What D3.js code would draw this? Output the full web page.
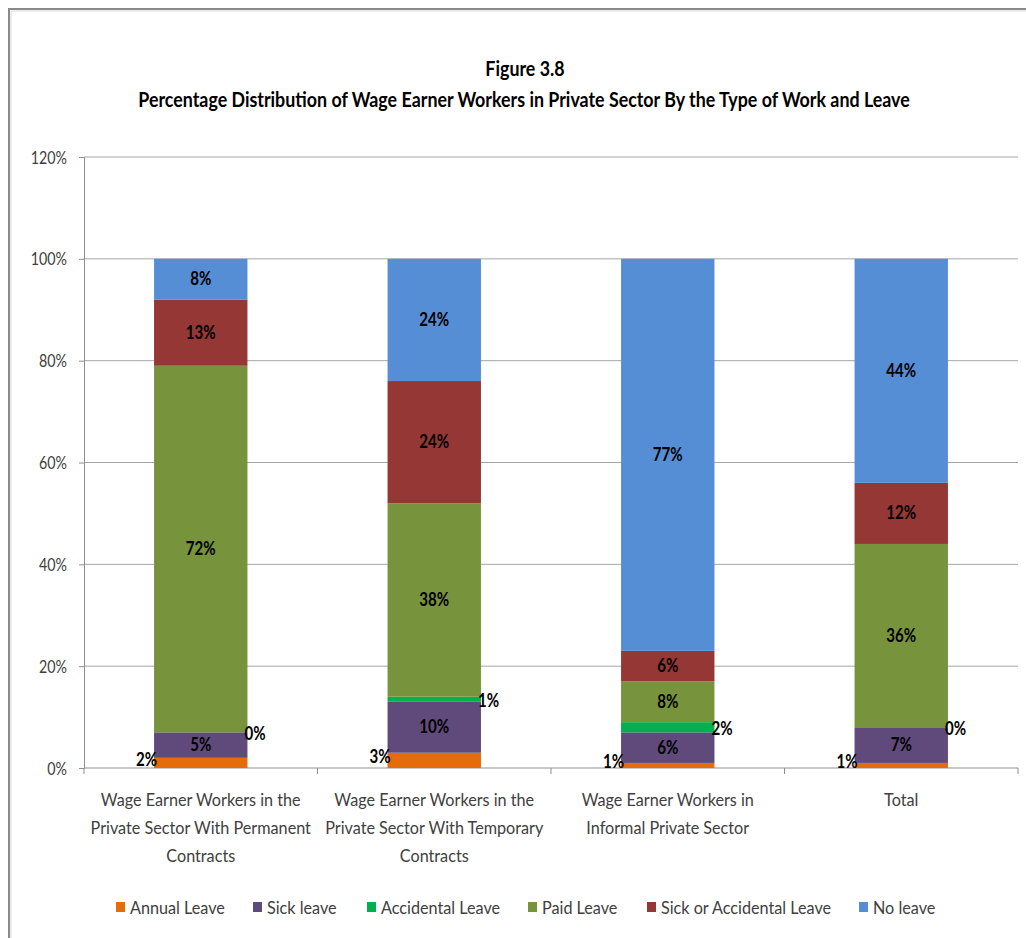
<!DOCTYPE html>
<html>
<head>
<meta charset="utf-8">
<script src="https://cdn.jsdelivr.net/npm/d3@7/dist/d3.min.js"></script>
<style>
  html, body { margin: 0; padding: 0; background: #fff; }
  svg { display: block; }
  text { font-family: Lato, "Open Sans", "DejaVu Sans", sans-serif; }
</style>
</head>
<body>
<svg id="chart" width="1026" height="938"></svg>
<script>
// Work types (x categories), each split into label lines
const categories = ["Permanent", "Temporary", "Informal", "Total"];
const categoryLines = [
  ["Wage Earner Workers in the", "Private Sector With Permanent", "Contracts"],
  ["Wage Earner Workers in the", "Private Sector With Temporary", "Contracts"],
  ["Wage Earner Workers in", "Informal Private Sector"],
  ["Total"]
];

// Leave types, stacked bottom to top
const seriesNames = ["Annual Leave", "Sick leave", "Accidental Leave", "Paid Leave", "Sick or Accidental Leave", "No leave"];
const seriesColors = ["#E46C0A", "#604A7B", "#00B050", "#77933C", "#953735", "#558ED5"];

// Percentages per leave type, one value per category
const annualLeave     = [2, 3, 1, 1];
const sickLeave       = [5, 10, 6, 7];
const accidentalLeave = [0, 1, 2, 0];
const paidLeave       = [72, 38, 8, 36];
const sickOrAccident  = [13, 24, 6, 12];
const noLeave         = [8, 24, 77, 44];

const yTicks = [0, 20, 40, 60, 80, 100, 120];

const seriesValues = [annualLeave, sickLeave, accidentalLeave, paidLeave, sickOrAccident, noLeave];
const rows = categories.map((c, i) => {
  const r = { category: c };
  seriesNames.forEach((s, k) => { r[s] = seriesValues[k][i]; });
  return r;
});

// Horizontal squeeze applied to text (condensed look)
const SX = 0.84;
function addText(parent, str, x, y, opts = {}) {
  const t = parent.append("text")
    .attr("transform", `translate(${x},${y}) scale(${opts.sx || SX},1)`)
    .attr("text-anchor", opts.anchor || "start")
    .attr("font-size", opts.size || 17)
    .attr("fill", opts.fill || "#000")
    .text(str);
  if (opts.bold) t.attr("font-weight", "bold");
  return t;
}

const svg = d3.select("#chart");

// Chart frame
svg.append("path")
  .attr("d", "M9,938 V9 H1026")
  .attr("fill", "none")
  .attr("stroke", "#8a8a8a")
  .attr("stroke-width", 2);
svg.append("path")
  .attr("d", "M11,938 V11 H1026")
  .attr("fill", "none")
  .attr("stroke", "#d8d8d8")
  .attr("stroke-width", 1);

// Title
addText(svg, "Figure 3.8", 525, 76, { anchor: "middle", size: 21, bold: true, sx: 0.85 });
addText(svg, "Percentage Distribution of Wage Earner Workers in Private Sector By the Type of Work and Leave",
  524, 107, { anchor: "middle", size: 21, bold: true, sx: 0.85 });

const plot = { left: 84, right: 1018, top: 157, bottom: 768 };

const x = d3.scaleBand()
  .domain(categories)
  .range([plot.left, plot.right])
  .paddingInner(0.6)
  .paddingOuter(0.3);

const y = d3.scaleLinear()
  .domain([0, 120])
  .range([plot.bottom, plot.top]);

// Horizontal gridlines
svg.append("g")
  .selectAll("line")
  .data(yTicks.filter(t => t > 0))
  .join("line")
  .attr("x1", plot.left).attr("x2", plot.right)
  .attr("y1", d => y(d)).attr("y2", d => y(d))
  .attr("stroke", "#a6a6a6")
  .attr("stroke-width", 1);

// Y axis
const yAxis = svg.append("g")
  .attr("transform", `translate(${plot.left},0)`)
  .call(d3.axisLeft(y).tickValues(yTicks).tickFormat(d => d + "%").tickSize(5).tickPadding(12));
yAxis.select(".domain").attr("stroke", "#8f8f8f");
yAxis.selectAll(".tick line").attr("stroke", "#8f8f8f");
yAxis.selectAll(".tick text")
  .attr("font-size", 17)
  .attr("fill", "#404040")
  .attr("dy", null)
  .attr("transform", function () { return `translate(${d3.select(this).attr("x")},6) scale(${SX},1)`; })
  .attr("x", 0)
  .style("font-family", "Lato, \"Open Sans\", \"DejaVu Sans\", sans-serif");

// X baseline and category separators
svg.append("line")
  .attr("x1", plot.left).attr("x2", plot.right)
  .attr("y1", plot.bottom).attr("y2", plot.bottom)
  .attr("stroke", "#8f8f8f");
const step = x.step();
const boundaries = d3.range(categories.length + 1).map(i => plot.left + i * step);
svg.append("g")
  .selectAll("line")
  .data(boundaries)
  .join("line")
  .attr("x1", d => d).attr("x2", d => d)
  .attr("y1", plot.bottom).attr("y2", plot.bottom + 6)
  .attr("stroke", "#8f8f8f");

// Stacked bars
const stack = d3.stack().keys(seriesNames);
const layers = stack(rows);

const barG = svg.append("g");
layers.forEach((layer, k) => {
  barG.append("g")
    .attr("fill", seriesColors[k])
    .selectAll("rect")
    .data(layer)
    .join("rect")
    .attr("x", d => x(d.data.category))
    .attr("width", x.bandwidth())
    .attr("y", d => y(d[1]))
    .attr("height", d => y(d[0]) - y(d[1]));
});

// Value labels
const labelG = svg.append("g");
layers.forEach((layer, k) => {
  layer.forEach(d => {
    const left = x(d.data.category);
    const cx = left + x.bandwidth() / 2;
    const cy = (y(d[0]) + y(d[1])) / 2;
    const str = d.data[seriesNames[k]] + "%";
    if (k === 0) {
      // thin bottom segment: label at the bar's left edge
      addText(labelG, str, left + 3, cy + 3, { anchor: "end", size: 18, bold: true });
    } else if (k === 2) {
      // thin accidental segment: label at the bar's right edge
      addText(labelG, str, left + x.bandwidth() - 3, cy + 8, { size: 18, bold: true });
    } else {
      addText(labelG, str, cx, cy + 6, { anchor: "middle", size: 18, bold: true });
    }
  });
});

// Category labels
const catG = svg.append("g");
categories.forEach((c, i) => {
  const cx = x(c) + x.bandwidth() / 2;
  categoryLines[i].forEach((line, j) => {
    addText(catG, line, cx, 806 + j * 28, { anchor: "middle", size: 18, fill: "#404040", sx: 0.9 });
  });
});

// Legend
const legendX = [116, 253, 367, 528, 647, 859];
const legend = svg.append("g");
seriesNames.forEach((s, k) => {
  legend.append("rect")
    .attr("x", legendX[k]).attr("y", 902)
    .attr("width", 9).attr("height", 10)
    .attr("fill", seriesColors[k]);
  addText(legend, s, legendX[k] + 14, 914, { size: 18, fill: "#404040", sx: 0.9 });
});
</script>
</body>
</html>
